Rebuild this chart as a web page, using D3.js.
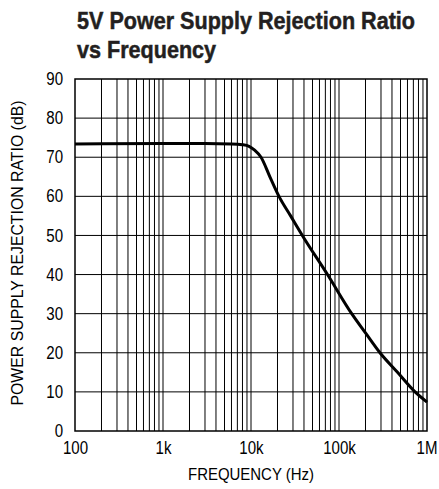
<!DOCTYPE html>
<html>
<head>
<meta charset="utf-8">
<script src="https://cdn.jsdelivr.net/npm/d3@7"></script>
<style>
  body { margin: 0; background: #fff; }
  text { font-family: "Liberation Sans Narrow", "Liberation Sans", Arial, sans-serif; fill: #000; }
</style>
</head>
<body>
<div id="chart"></div>
<script>
// 数据: 频率 (Hz) 和 PSRR (dB)
var freq = [100, 1000, 3000, 6000, 8000, 9500, 11000, 13000, 16400, 20800, 28200, 38300, 74000, 139400, 201000, 292000, 462000, 731000, 1000000];
var psrr = [73.4, 73.5, 73.5, 73.4, 73.2, 72.8, 71.8, 70, 65, 60, 55, 50, 40, 30, 25, 20, 15, 10, 7.4];
var xTicks = [100, 1000, 10000, 100000, 1000000];
var xTickLabels = ["100", "1k", "10k", "100k", "1M"];
var yTicks = [0, 10, 20, 30, 40, 50, 60, 70, 80, 90];

var W = 439, H = 489;
var margin = {top: 79, right: 12, bottom: 58, left: 75};
var width = W - margin.left - margin.right,
    height = H - margin.top - margin.bottom;

var svg = d3.select("#chart").append("svg")
    .attr("width", W)
    .attr("height", H);

// 把字体横向压窄 (没有窄体字体)
function squeeze(sel, factor) {
    sel.each(function () {
        var w = this.getComputedTextLength();
        d3.select(this).attr("textLength", w * factor).attr("lengthAdjust", "spacingAndGlyphs");
    });
}

// 标题
var t1 = svg.append("text")
    .attr("x", 77)
    .attr("y", 29)
    .style("font-weight", "bold")
    .style("font-size", "24.5px")
    .style("fill", "#231f20")
    .style("stroke", "#231f20")
    .style("stroke-width", "0.5px")
    .text("5V Power Supply Rejection Ratio");
var t2 = svg.append("text")
    .attr("x", 77)
    .attr("y", 58)
    .style("font-weight", "bold")
    .style("font-size", "24.5px")
    .style("fill", "#231f20")
    .style("stroke", "#231f20")
    .style("stroke-width", "0.5px")
    .text("vs Frequency");
var titleFactor = 338 / t1.node().getComputedTextLength();
squeeze(t1, titleFactor);
squeeze(t2, titleFactor);

var g = svg.append("g")
    .attr("transform", "translate(" + margin.left + "," + margin.top + ")");

var x = d3.scaleLog().domain([100, 1000000]).range([0, width]);
var y = d3.scaleLinear().domain([0, 90]).range([height, 0]);

// 次网格线 (对数)
var minor = [];
for (var dec = 100; dec < 1000000; dec *= 10) {
    for (var k = 2; k <= 9; k++) minor.push(dec * k);
}
g.selectAll(".vgrid")
    .data(minor.concat(xTicks.slice(1, -1)))
    .enter().append("line")
    .attr("x1", function (d) { return x(d); })
    .attr("x2", function (d) { return x(d); })
    .attr("y1", 0)
    .attr("y2", height)
    .attr("stroke", "#000")
    .attr("stroke-width", 1);

g.selectAll(".hgrid")
    .data(yTicks.slice(1, -1))
    .enter().append("line")
    .attr("x1", 0)
    .attr("x2", width)
    .attr("y1", function (d) { return y(d); })
    .attr("y2", function (d) { return y(d); })
    .attr("stroke", "#000")
    .attr("stroke-width", 1);

// 边框
g.append("rect")
    .attr("width", width)
    .attr("height", height)
    .attr("fill", "none")
    .attr("stroke", "#000")
    .attr("stroke-width", 1.5);

// 曲线
var line = d3.line()
    .x(function (d) { return x(d[0]); })
    .y(function (d) { return y(d[1]); })
    .curve(d3.curveMonotoneX);

g.append("path")
    .datum(d3.zip(freq, psrr))
    .attr("fill", "none")
    .attr("stroke", "#000")
    .attr("stroke-width", 3)
    .attr("d", line);

// 坐标轴
var xAxis = g.append("g")
    .attr("transform", "translate(0," + height + ")")
    .call(d3.axisBottom(x).tickValues(xTicks).tickSize(0).tickPadding(11)
        .tickFormat(function (d, i) { return xTickLabels[i]; }));
xAxis.select(".domain").remove();
xAxis.selectAll("text").style("font-size", "17.5px")
    .style("font-family", "'Liberation Sans Narrow', 'Liberation Sans', sans-serif");
squeeze(xAxis.selectAll("text"), 0.86);
// 最后一个标签 "1M" 靠右对齐, 不要超出画面
xAxis.selectAll(".tick").filter(function (d) { return d === 1000000; })
    .select("text")
    .attr("text-anchor", "end")
    .attr("x", 10);

var yAxis = g.append("g")
    .call(d3.axisLeft(y).tickValues(yTicks).tickSize(0).tickPadding(12));
yAxis.select(".domain").remove();
yAxis.selectAll("text").style("font-size", "17.5px")
    .style("font-family", "'Liberation Sans Narrow', 'Liberation Sans', sans-serif");
squeeze(yAxis.selectAll("text"), 0.86);

// 轴标题
var xl = svg.append("text")
    .attr("x", margin.left + width / 2)
    .attr("y", 480)
    .attr("text-anchor", "middle")
    .style("font-size", "16px")
    .text("FREQUENCY (Hz)");
xl.attr("textLength", 126).attr("lengthAdjust", "spacingAndGlyphs");

var yl = svg.append("text")
    .attr("transform", "translate(23," + (margin.top + height / 2 - 2) + ") rotate(-90)")
    .attr("text-anchor", "middle")
    .style("font-size", "16px")
    .text("POWER SUPPLY REJECTION RATIO (dB)");
yl.attr("textLength", 305).attr("lengthAdjust", "spacingAndGlyphs");
</script>
</body>
</html>
